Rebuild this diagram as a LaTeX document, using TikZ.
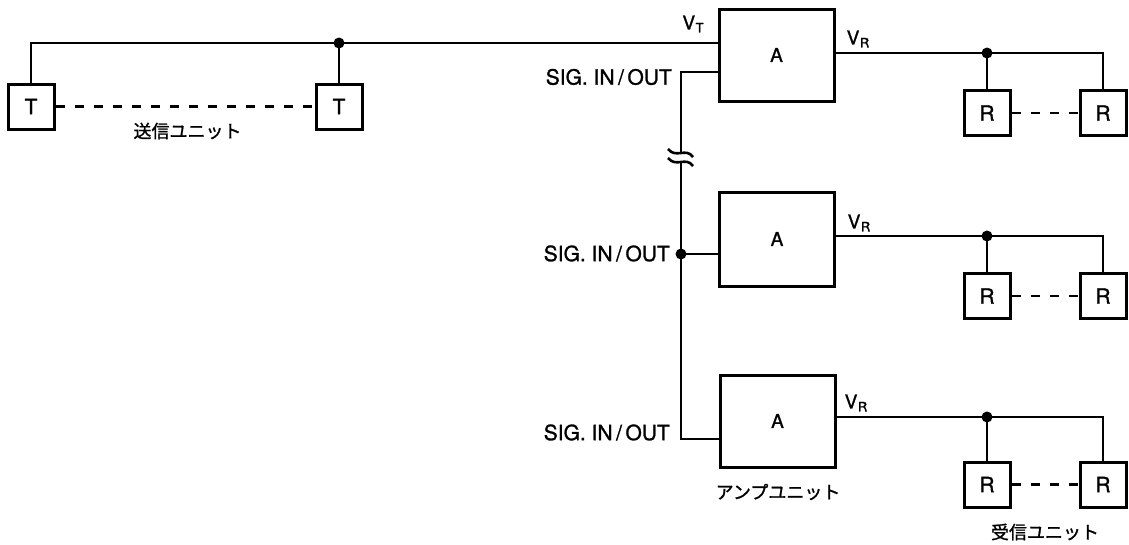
\documentclass[tikz,border=0pt]{standalone}
\usepackage{fontspec}
\setmainfont{TeX Gyre Heros}[FakeBold=1.2]
\newfontfamily\jpfont{Noto Sans CJK JP}[FakeBold=1.2]
\newcommand\subl[1]{\kern0.5pt\raisebox{-3pt}{\fontsize{13}{13}\selectfont #1}}
\begin{document}
\begin{tikzpicture}[x=1pt,y=-1pt,
  wire/.style={line width=2.6pt},
  amp/.style={draw, line width=3pt, minimum width=115pt, minimum height=92pt, inner sep=0pt, font=\fontsize{19}{22}\selectfont},
  unit/.style={draw, line width=3pt, minimum width=46pt, minimum height=45pt, inner sep=0pt, font=\fontsize{21}{24}\selectfont},
  link/.style={line width=2.6pt, dash pattern=on 9pt off 10pt},
  lbl/.style={inner sep=0pt, font=\fontsize{21}{24}\selectfont},
  vlbl/.style={inner sep=0pt, font=\fontsize{19}{22}\selectfont},
  jp/.style={inner sep=0pt, font=\jpfont\fontsize{18}{20}\selectfont},
  jdot/.style={fill=black}]
\useasboundingbox (0,0) rectangle (1129,544);

% units
\node[unit] (t1) at (31,106.5) {T};
\node[unit] (t2) at (339,106.5) {T};
\node[amp] (a1) at (776.5,55) {A};
\node[amp, minimum height=94pt] (a2) at (777,239) {A};
\node[amp] (a3) at (777.5,421) {A};
\node[unit] (r1a) at (987,113) {R};
\node[unit] (r1b) at (1103,113) {R};
\node[unit] (r2a) at (987,296) {R};
\node[unit] (r2b) at (1103,296) {R};
\node[unit] (r3a) at (987,484.5) {R};
\node[unit] (r3b) at (1103,484.5) {R};

% coordinates
\coordinate (j0) at (339,43);
\coordinate (s1) at (681,72);
\coordinate (bk1) at (681,153);
\coordinate (bk2) at (681,162);
\coordinate (s2) at (681,254);
\coordinate (s3) at (681,439);
\coordinate (d1) at (987,53);
\coordinate (d2) at (987,236);
\coordinate (d3) at (987,417);

% transmitter line
\draw[wire] (t1.north) |- (j0) -- (a1.west |- j0);
\draw[wire] (t2.north) -- (j0);
\draw[link] (t1.east) -- (t2.west);

% signal line
\draw[wire] (a1.west |- s1) -- (s1) -- (bk1);
\draw[wire] (bk2) -- (s3) -- (a3.west |- s3);
\draw[wire] (s2) -- (a2.west |- s2);
\draw[wire] ([shift={(-13,-4)}]bk1) .. controls ([shift={(-5,6)}]bk1) and ([shift={(5,-6)}]bk1) .. ([shift={(12,4)}]bk1);
\draw[wire] ([shift={(-13,-4)}]bk2) .. controls ([shift={(-5,6)}]bk2) and ([shift={(5,-6)}]bk2) .. ([shift={(12,4)}]bk2);

% receiver lines
\draw[wire] (a1.east |- d1) -- (d1) -| (r1b.north);
\draw[wire] (d1) -- (r1a.north);
\draw[link] (r1a.east) -- (r1b.west);
\draw[wire] (a2.east |- d2) -- (d2) -| (r2b.north);
\draw[wire] (d2) -- (r2a.north);
\draw[link] (r2a.east) -- (r2b.west);
\draw[wire] (a3.east |- d3) -- (d3) -| (r3b.north);
\draw[wire] (d3) -- (r3a.north);
\draw[link] (r3a.east) -- (r3b.west);

% junction dots
\foreach \p in {j0,s2,d1,d2,d3} \fill[jdot] (\p) circle (5.5pt);

% labels
\node[vlbl] (vt) at (693,24) {V\subl{T}};
\node[vlbl] (vr1) at (858,39) {V\subl{R}};
\node[vlbl] (vr2) at (859,223) {V\subl{R}};
\node[vlbl] (vr3) at (856,403) {V\subl{R}};
\node[lbl, anchor=east] (sig1) at (672,77) {SIG.\ IN\,/\,OUT};
\node[lbl, anchor=east] (sig2) at (670,253.5) {SIG.\ IN\,/\,OUT};
\node[lbl, anchor=east] (sig3) at (670,432.5) {SIG.\ IN\,/\,OUT};
\node[jp] (lt) at (187.5,131) {送信ユニット};
\node[jp] (la) at (778,492) {アンプユニット};
\node[jp] (lr) at (1045,532) {受信ユニット};
\end{tikzpicture}
\end{document}
